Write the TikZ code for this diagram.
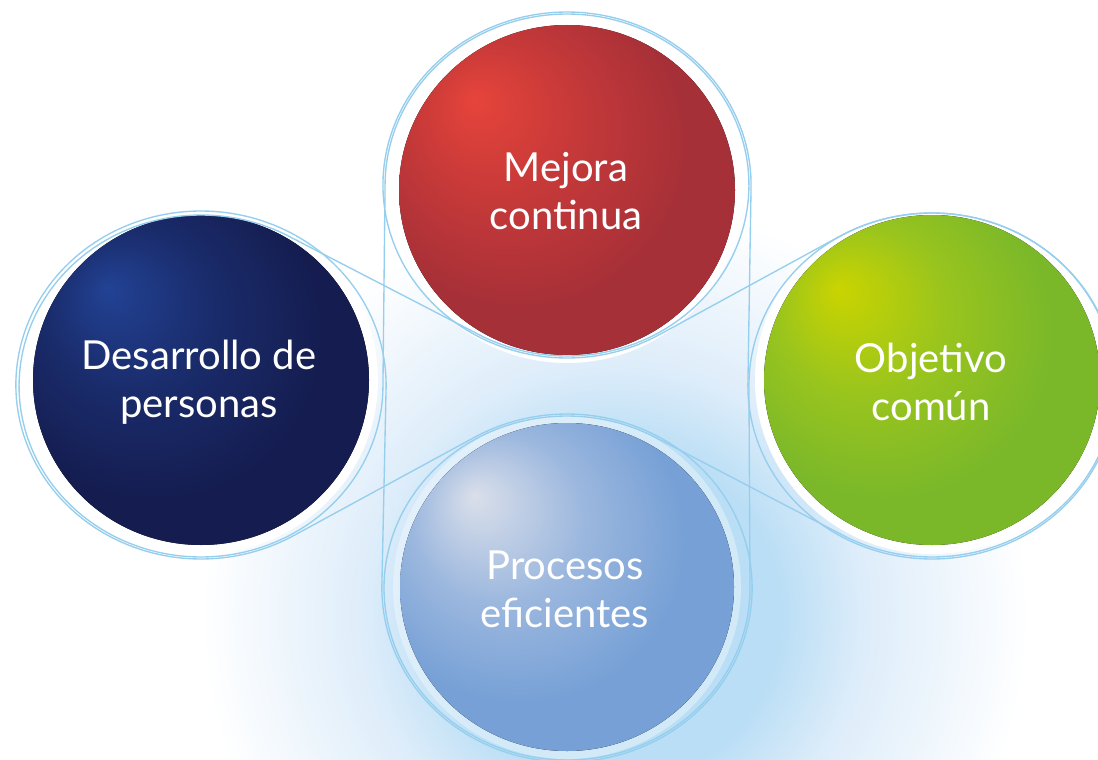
\documentclass[tikz,border=0pt]{standalone}
\usepackage{fontspec}
\setmainfont{Lato}
\definecolor{redhl}{RGB}{230,68,58}
\definecolor{redmid}{RGB}{198,57,57}
\definecolor{rededge}{RGB}{166,48,56}
\definecolor{navyhl}{RGB}{34,66,148}
\definecolor{navymid}{RGB}{26,44,108}
\definecolor{navyedge}{RGB}{21,29,80}
\definecolor{greenhl}{RGB}{202,212,0}
\definecolor{greenmid}{RGB}{152,196,30}
\definecolor{greenedge}{RGB}{122,184,42}
\definecolor{skyhl}{RGB}{218,223,234}
\definecolor{skymid}{RGB}{155,183,222}
\definecolor{skyedge}{RGB}{118,160,214}
\definecolor{glowc}{RGB}{186,222,245}
\definecolor{glowmid}{RGB}{222,237,250}
\definecolor{beltc}{RGB}{150,206,238}
\pgfdeclareradialshading{redball}{\pgfpoint{-14bp}{14bp}}{color(0bp)=(redhl); color(12bp)=(redmid); color(25bp)=(rededge); color(50bp)=(rededge)}
\pgfdeclareradialshading{navyball}{\pgfpoint{-14bp}{14bp}}{color(0bp)=(navyhl); color(12bp)=(navymid); color(25bp)=(navyedge); color(50bp)=(navyedge)}
\pgfdeclareradialshading{greenball}{\pgfpoint{-14bp}{14bp}}{color(0bp)=(greenhl); color(13bp)=(greenmid); color(25bp)=(greenedge); color(50bp)=(greenedge)}
\pgfdeclareradialshading{skyball}{\pgfpoint{-14bp}{14bp}}{color(0bp)=(skyhl); color(13bp)=(skymid); color(25bp)=(skyedge); color(50bp)=(skyedge)}
% glow: path radius 900 <-> 25bp
\pgfdeclareradialshading{glowshade}{\pgfpoint{0bp}{0bp}}{color(0bp)=(glowc); color(4.6bp)=(glowc); color(7bp)=(glowmid); color(11.5bp)=(white); color(50bp)=(white)}
\tikzset{
  beltline/.style={draw=beltc, line width=1.35pt},
  lbl/.style={text=white, align=center, font=\fontsize{40}{48}\selectfont, inner sep=0pt},
  halo/.style={fill=white},
}
% figure-eight belt around two circles (logical coords): ax, ay, bx, by, radius
\newcommand\beltpath[5]{%
  \pgfmathsetmacro\bAl{atan2((#4)-(#2),(#3)-(#1))}%
  \pgfmathsetmacro\bH{veclen((#3)-(#1),(#4)-(#2))/2}%
  \pgfmathsetmacro\bPh{acos((#5)/\bH)}%
  \pgfmathsetmacro\bSa{\bAl+\bPh+180}%
  \pgfmathsetmacro\bSb{\bAl-\bPh}%
  \pgfmathsetmacro\bDa{360-2*\bPh}%
  \draw[beltline] plot[domain=0:1,samples=160] ({#3+#5*cos(\bSa+\x*\bDa)},{#4+#5*sin(\bSa+\x*\bDa)})
     -- plot[domain=0:1,samples=160] ({#1+#5*cos(\bSb-\x*\bDa)},{#2+#5*sin(\bSb-\x*\bDa)}) -- cycle;
}
\begin{document}
\begin{tikzpicture}[x=1pt,y=-1pt]
\useasboundingbox (0,0) rectangle (1098,760);
\begin{scope}
\clip (0,0) rectangle (1098,760);
\fill[white] (0,0) rectangle (1098,760);
% background glow
\fill[shading=glowshade] (615,615) circle[radius=900];
\end{scope}
% halos
\fill[halo] (201,380) ellipse[x radius=177, y radius=174];
\fill[halo] (567,190) ellipse[x radius=176, y radius=173];
\fill[halo] (932,380) ellipse[x radius=177, y radius=174];
\fill[white, opacity=0.35] (567,587) ellipse[x radius=174, y radius=172];
% spheres
\fill[shading=navyball] (201,380) ellipse[x radius=168, y radius=165];
\fill[shading=redball] (567,190) ellipse[x radius=168, y radius=165];
\fill[shading=greenball] (932,380) ellipse[x radius=168, y radius=165];
\fill[shading=skyball] (567,587) ellipse[x radius=167, y radius=164];
% labels
\node[lbl] (mejora) at (566,191) {Mejora\\continua};
\node[lbl] (desarrollo) at (199,382) {Desarrollo de\\personas};
\node[lbl] (objetivo) at (931,382) {Objetivo\\común};
\node[lbl] (procesos) at (565,589) {Procesos\\eficientes};
% belts
\begin{scope}[xscale=1.064]
  \beltpath{188.9}{386}{532.9}{185}{171}
  \beltpath{532.9}{185}{875.9}{386}{173}
  \beltpath{188.9}{385}{532.9}{588}{174}
  \beltpath{532.9}{588}{875.9}{385}{172}
\end{scope}
\end{tikzpicture}
\end{document}
